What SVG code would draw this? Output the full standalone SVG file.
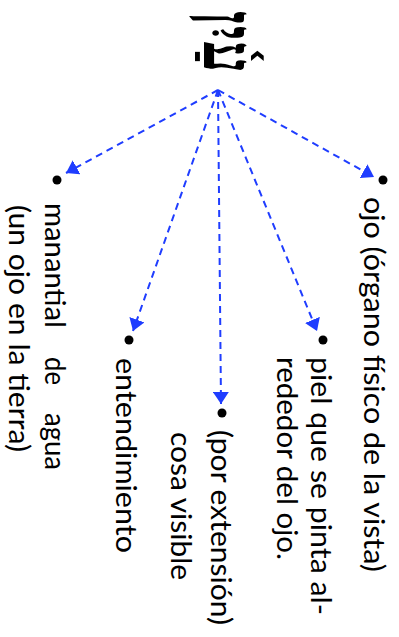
<svg xmlns="http://www.w3.org/2000/svg" width="399" height="637" viewBox="0 0 399 637">
<style>
.lbl{font-family:"Lato","Liberation Sans",sans-serif;font-size:28px;fill:#000}
.heb{font-family:"Liberation Serif","DejaVu Serif",serif;font-size:58px;font-weight:bold;fill:#000}
.conn{stroke:#1f3dff;stroke-width:2;stroke-dasharray:7,5;fill:none}
.dot{fill:#000}
</style>
<defs>
<marker id="ah" viewBox="0 0 12 16" refX="12" refY="8" markerWidth="12" markerHeight="16" markerUnits="userSpaceOnUse" orient="auto">
<path d="M0,0 L12,8 L0,16 Z" fill="#1f3dff"/>
</marker>
</defs>
<rect width="399" height="637" fill="#fff"/>
<g id="root">
<text class="heb" text-anchor="middle" transform="translate(204,42) rotate(90) scale(1,1.25)">עַ֫יִן</text>
</g>
<g id="connectors">
<line class="conn" x1="218" y1="90" x2="66" y2="173" marker-end="url(#ah)"/>
<line class="conn" x1="218" y1="90" x2="133" y2="331" marker-end="url(#ah)"/>
<line class="conn" x1="218" y1="90" x2="221" y2="404" marker-end="url(#ah)"/>
<line class="conn" x1="218" y1="90" x2="317" y2="331" marker-end="url(#ah)"/>
<line class="conn" x1="218" y1="90" x2="374" y2="177" marker-end="url(#ah)"/>
</g>
<g id="n-ojo">
<circle class="dot" cx="383" cy="180" r="4.5"/>
<text class="lbl" transform="translate(364,197) rotate(90)" textLength="375" lengthAdjust="spacingAndGlyphs">ojo (órgano físico de la vista)</text>
</g>
<g id="n-piel">
<circle class="dot" cx="323" cy="340" r="4.5"/>
<text class="lbl" transform="translate(311,357) rotate(90)" textLength="258" lengthAdjust="spacingAndGlyphs">piel que se pinta al-</text>
<text class="lbl" transform="translate(277,357) rotate(90)" textLength="203" lengthAdjust="spacingAndGlyphs">rededor del ojo.</text>
</g>
<g id="n-por">
<circle class="dot" cx="222" cy="413" r="4.5"/>
<text class="lbl" transform="translate(211,430) rotate(90)" textLength="195" lengthAdjust="spacingAndGlyphs">(por extensión)</text>
<text class="lbl" transform="translate(171,432) rotate(90)" textLength="148" lengthAdjust="spacingAndGlyphs">cosa visible</text>
</g>
<g id="n-entend">
<circle class="dot" cx="129" cy="340" r="4.5"/>
<text class="lbl" transform="translate(116,358) rotate(90)" textLength="195" lengthAdjust="spacingAndGlyphs">entendimiento</text>
</g>
<g id="n-manantial">
<circle class="dot" cx="57" cy="180" r="4.5"/>
<text class="lbl" transform="translate(45,0) rotate(90)"><tspan x="203" textLength="125" lengthAdjust="spacingAndGlyphs">manantial</tspan><tspan x="357" textLength="28" lengthAdjust="spacingAndGlyphs">de</tspan><tspan x="413" textLength="57" lengthAdjust="spacingAndGlyphs">agua</tspan></text>
<text class="lbl" transform="translate(9,205) rotate(90)" textLength="247" lengthAdjust="spacingAndGlyphs">(un ojo en la tierra)</text>
</g>
</svg>
